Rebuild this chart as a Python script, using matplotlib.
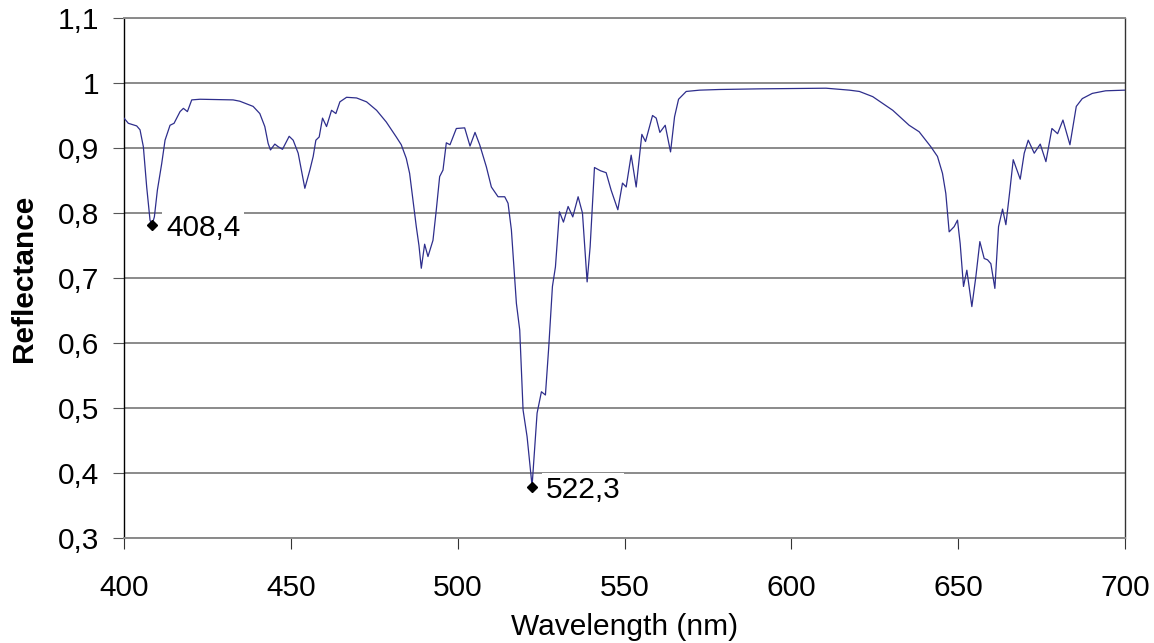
import matplotlib
matplotlib.use("Agg")
import matplotlib.pyplot as plt
from matplotlib.ticker import FuncFormatter, MultipleLocator

plt.rcParams['font.family'] = ['Liberation Sans', 'DejaVu Sans']

# Wavelength (nm) and reflectance
wavelength = [
    400.0, 401.3, 403.8, 404.8, 405.8, 406.8, 407.8, 408.4, 409.1, 410.0,
    411.3, 412.3, 413.8, 415.0, 416.8, 417.8, 419.0, 420.3, 422.8, 432.7,
    434.7, 438.7, 440.7, 442.2, 443.2, 443.9, 445.2, 446.2, 447.5, 449.5,
    450.7, 452.2, 454.2, 455.7, 456.7, 457.5, 458.5, 459.5, 460.7, 462.2,
    463.5, 464.7, 466.7, 469.7, 472.7, 475.7, 478.6, 481.6, 483.1, 484.6,
    485.6, 486.6, 487.6, 488.4, 489.1, 490.1, 491.1, 492.6, 493.6, 494.6,
    495.6, 496.6, 497.7, 499.6, 502.1, 503.7, 505.2, 506.6, 508.6, 510.1,
    512.1, 514.1, 515.1, 516.1, 517.6, 518.6, 519.6, 520.8, 522.3, 523.8,
    525.1, 526.3, 527.3, 528.4, 529.3, 530.5, 531.7, 533.1, 534.5, 536.1,
    537.4, 538.8, 539.7, 541.0, 542.8, 544.5, 546.0, 548.0, 549.4, 550.5,
    552.0, 553.5, 555.2, 556.3, 558.4, 559.5, 560.6, 562.2, 563.8, 565.0,
    566.2, 568.5, 572.5, 578.4, 590.4, 610.4, 617.4, 620.4, 624.4, 630.4,
    635.3, 638.3, 641.8, 643.8, 645.3, 646.3, 647.3, 648.8, 649.8, 650.6,
    651.6, 652.6, 654.1, 655.3, 656.5, 657.8, 658.8, 659.8, 661.0, 662.1,
    663.3, 664.3, 665.5, 666.5, 668.6, 669.8, 671.0, 672.8, 674.6, 676.3,
    678.1, 679.8, 681.4, 683.5, 685.4, 687.2, 690.2, 694.2, 700.0,
]
reflectance = [
    0.946, 0.938, 0.934, 0.928, 0.902, 0.840, 0.789, 0.782, 0.794, 0.835,
    0.876, 0.912, 0.935, 0.938, 0.956, 0.961, 0.956, 0.974, 0.975, 0.974,
    0.972, 0.964, 0.953, 0.933, 0.907, 0.897, 0.906, 0.902, 0.898, 0.918,
    0.912, 0.892, 0.838, 0.866, 0.887, 0.912, 0.917, 0.946, 0.933, 0.958,
    0.953, 0.971, 0.978, 0.977, 0.971, 0.958, 0.940, 0.917, 0.905, 0.884,
    0.861, 0.820, 0.779, 0.750, 0.715, 0.752, 0.733, 0.758, 0.805, 0.856,
    0.866, 0.908, 0.905, 0.930, 0.931, 0.903, 0.924, 0.905, 0.871, 0.840,
    0.825, 0.825, 0.815, 0.774, 0.661, 0.620, 0.497, 0.456, 0.380, 0.492,
    0.525, 0.520, 0.594, 0.687, 0.717, 0.802, 0.786, 0.810, 0.794, 0.825,
    0.800, 0.694, 0.748, 0.870, 0.865, 0.862, 0.835, 0.805, 0.846, 0.840,
    0.889, 0.840, 0.921, 0.910, 0.950, 0.946, 0.924, 0.935, 0.894, 0.948,
    0.975, 0.987, 0.989, 0.990, 0.991, 0.992, 0.989, 0.987, 0.979, 0.958,
    0.935, 0.925, 0.902, 0.887, 0.861, 0.830, 0.771, 0.779, 0.789, 0.753,
    0.687, 0.712, 0.656, 0.702, 0.756, 0.730, 0.728, 0.722, 0.684, 0.779,
    0.806, 0.782, 0.835, 0.882, 0.852, 0.892, 0.912, 0.892, 0.906, 0.879,
    0.930, 0.922, 0.943, 0.905, 0.964, 0.976, 0.984, 0.988, 0.989,
]

# Marked minima
peak_wl = [408.4, 522.3]
peak_refl = [0.781, 0.378]
peak_labels = ["408,4", "522,3"]

x_ticks = [400, 450, 500, 550, 600, 650, 700]

fig = plt.figure(figsize=(11.54, 6.43), dpi=100)
ax = fig.add_axes([124 / 1154, 1 - 538 / 643, (1125 - 124) / 1154, (538 - 18) / 643])

ax.plot(wavelength, reflectance, color='#2E2E8C', linewidth=0.9, zorder=3)
ax.plot(peak_wl, peak_refl, linestyle='none', marker='D', markersize=5,
        color='black', zorder=5)
for xw, yr, lab in zip(peak_wl, peak_refl, peak_labels):
    ax.annotate(lab, xy=(xw, yr), xytext=(10, -8), textcoords='offset points',
                ha='left', va='baseline', fontsize=21.5, color='black',
                bbox=dict(boxstyle='square,pad=0.12', facecolor='white',
                          edgecolor='none'),
                zorder=4)

ax.set_xlim(400, 700)
ax.set_ylim(0.3, 1.1)
ax.set_xticks(x_ticks)
ax.yaxis.set_major_locator(MultipleLocator(0.1))
ax.yaxis.set_major_formatter(FuncFormatter(lambda v, p: f"{round(v, 2):g}".replace('.', ',')))

ax.grid(axis='y', color='#8a8a8a', linewidth=1.4, zorder=1)
ax.set_axisbelow(True)

for side in ['top', 'bottom']:
    ax.spines[side].set_color('#8a8a8a')
    ax.spines[side].set_linewidth(1.4)
ax.spines['left'].set_color('black')
ax.spines['left'].set_linewidth(1.0)
ax.spines['right'].set_color('#333333')
ax.spines['right'].set_linewidth(1.0)

ax.tick_params(axis='both', direction='out', length=8, width=0.8,
               labelsize=21.5, colors='black')
ax.tick_params(axis='y', pad=10, color='#555555')
ax.tick_params(axis='x', pad=18, color='#333333')

ax.set_xlabel('Wavelength (nm)', fontsize=21.5, labelpad=8)
ax.set_ylabel('Reflectance', fontsize=21.5, fontweight='bold', labelpad=14)

fig.savefig('out.png', dpi=100, facecolor='white')
